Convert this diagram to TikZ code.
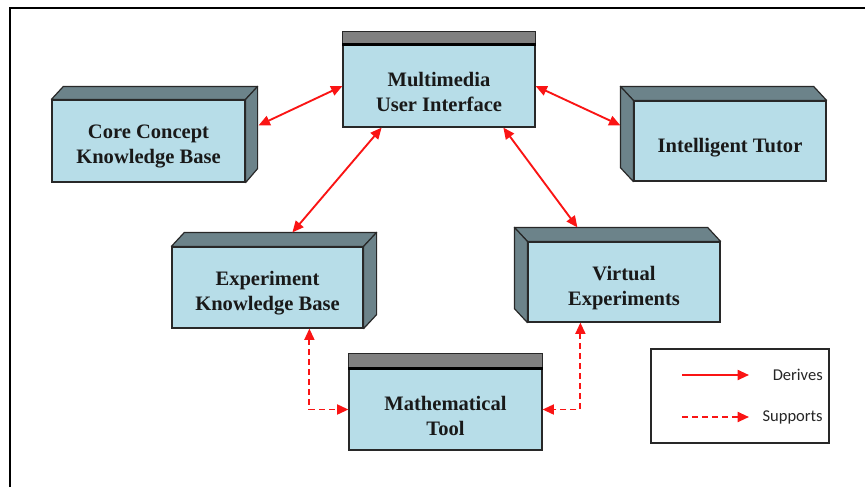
\documentclass[tikz,border=0pt]{standalone}
\usepackage{fontspec}
\setmainfont{Liberation Serif}
\newfontfamily\legendfont{Carlito}
\usetikzlibrary{arrows.meta,calc,fit}
\definecolor{face}{RGB}{183,221,232}
\definecolor{sidec}{RGB}{108,131,138}
\definecolor{barc}{RGB}{128,128,128}
\definecolor{edgec}{RGB}{40,40,40}
\definecolor{arr}{RGB}{250,20,20}
\begin{document}
\begin{tikzpicture}[x=0.75pt,y=-0.75pt,
  box/.style={draw=edgec, line width=0.9pt, fill=face, rectangle, inner sep=0pt},
  boxtext/.style={inner sep=0pt, align=center, text=black!90, font=\fontsize{15.4}{18.75}\selectfont\bfseries},
  sideface/.style={draw=edgec, line width=0.9pt, fill=sidec, line join=round},
  barface/.style={draw=edgec, line width=0.9pt, fill=barc},
  tip/.style={},
  derive/.style={draw=arr, line width=1.4pt, {Triangle[length=8.5pt,width=7.5pt]}-{Triangle[length=8.5pt,width=7.5pt]}},
  derivelg/.style={draw=arr, line width=1.4pt, -{Triangle[length=8.5pt,width=7.5pt]}},
  support/.style={draw=arr, line width=1.4pt, dash pattern=on 4.5pt off 3pt, {Triangle[length=8.5pt,width=7.5pt]}-{Triangle[length=8.5pt,width=7.5pt]}},
  supportlg/.style={draw=arr, line width=1.4pt, dash pattern=on 4.5pt off 3pt, -{Triangle[length=8.5pt,width=7.5pt]}},
  legtext/.style={font=\legendfont\fontsize{12.4}{14}\selectfont, text=black!85, inner sep=0pt, anchor=east}
]
\useasboundingbox (0,0) rectangle (865,487);
\fill[white] (0,0) rectangle (865,487);
% outer frame
\draw[line width=1.8pt] (10,487) -- (10,8) -- (865,8);

% Core Concept Knowledge Base (depth to the right)
\node[box, fit={(52,100) (245,182)}] (core) {};
\draw[sideface] (core.north west) -- ++(12,-13) -- ($(core.north east)+(12,-13)$) -- (core.north east) -- cycle;
\draw[sideface] (core.north east) -- ++(12,-13) -- ($(core.south east)+(12,-14)$) -- (core.south east) -- cycle;
\node[boxtext] (coret) at ($(core.center)+(0,5)$) {Core Concept\\Knowledge Base};

% Multimedia User Interface (title bar)
\node[box, fit={(343,45) (535,127)}] (mui) {};
\draw[barface] ($(mui.north west)+(0,-13)$) rectangle (mui.north east);
\draw[line width=1.8pt] (mui.north west) -- (mui.north east);
\node[boxtext] (muit) at ($(mui.center)+(0,6)$) {Multimedia\\User Interface};

% Intelligent Tutor (depth to the left)
\node[box, fit={(634,101) (826,181)}] (tutor) {};
\draw[sideface] (tutor.north east) -- ++(-13,-14) -- ($(tutor.north west)+(-13,-14)$) -- (tutor.north west) -- cycle;
\draw[sideface] (tutor.north west) -- ++(-13,-14) -- ($(tutor.south west)+(-13,-14)$) -- (tutor.south west) -- cycle;
\node[boxtext] (tutort) at ($(tutor.center)+(0,7)$) {Intelligent Tutor};

% Experiment Knowledge Base (depth to the right)
\node[box, fit={(172,247) (363,328)}] (ekb) {};
\draw[sideface] (ekb.north west) -- ++(13,-14) -- ($(ekb.north east)+(13,-14)$) -- (ekb.north east) -- cycle;
\draw[sideface] (ekb.north east) -- ++(13,-14) -- ($(ekb.south east)+(13,-14)$) -- (ekb.south east) -- cycle;
\node[boxtext] (ekbt) at ($(ekb.center)+(0,6)$) {Experiment\\Knowledge Base};

% Virtual Experiments (depth to the left)
\node[box, fit={(528,242) (720,322)}] (ve) {};
\draw[sideface] (ve.north east) -- ++(-13,-14) -- ($(ve.north west)+(-13,-14)$) -- (ve.north west) -- cycle;
\draw[sideface] (ve.north west) -- ++(-13,-14) -- ($(ve.south west)+(-13,-14)$) -- (ve.south west) -- cycle;
\node[boxtext] (vet) at ($(ve.center)+(0,6)$) {Virtual\\Experiments};

% Mathematical Tool (title bar)
\node[box, fit={(349,369) (542,450)}] (mt) {};
\draw[barface] ($(mt.north west)+(0,-15)$) rectangle (mt.north east);
\draw[line width=1.8pt] (mt.north west) -- (mt.north east);
\node[boxtext] (mtt) at ($(mt.center)+(0,6)$) {Mathematical\\Tool};

% Derives connectors
\draw[derive] ($(core.north east)+(13,26)$) -- (mui.west);
\draw[derive] (mui.east) -- ($(tutor.north west)+(-13,25)$);
\draw[derive] ($(mui.south west)!0.203!(mui.south east)$) -- ($(ekb.north west)+(121,-14)$);
\draw[derive] ($(mui.south west)!0.833!(mui.south east)$) -- ($(ve.north west)+(50,-14)$);

% Supports connectors
\draw[support] ($(ekb.south west)+(138,0)$) |- (mt.west);
\draw[support] ($(ve.south west)+(53,0)$) |- (mt.east);

% Legend
\node[draw=edgec, line width=0.8pt, inner sep=0pt, fit={(651,349) (829,443)}] (legend) {};
\coordinate (d1) at (682,375);
\coordinate (d2) at (749,375);
\coordinate (s1) at (682,417);
\coordinate (s2) at (749,417);
\draw[derivelg] (d1) -- (d2);
\draw[supportlg] (s1) -- (s2);
\node[legtext] (lgd) at (823,375) {Derives};
\node[legtext] (lgs) at (823,417) {Supports};
\end{tikzpicture}
\end{document}
